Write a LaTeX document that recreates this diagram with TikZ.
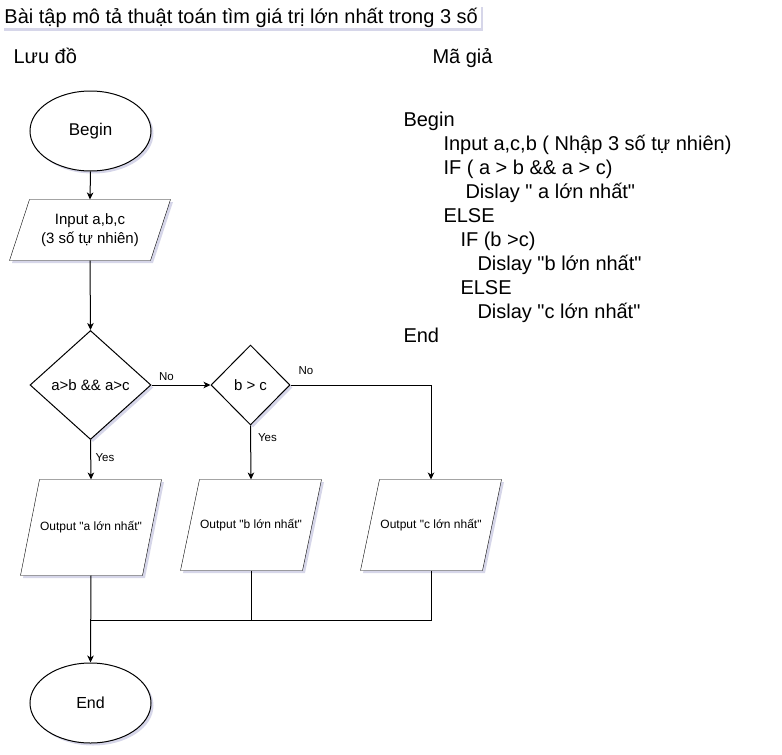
\documentclass[tikz,border=0pt]{standalone}
\usepackage{fontspec}
\setmainfont{Liberation Sans}[Ligatures=TeXOff]
\usetikzlibrary{shapes.geometric,shadows,arrows.meta,calc,backgrounds}
\definecolor{shc}{RGB}{204,204,228}
\newcommand\mypgram[2]{\draw[para] ($(#1.north west)+(#2,0)$) -- ($(#1.north east)+(#2,0)$) -- ($(#1.south east)-(#2,0)$) -- ($(#1.south west)-(#2,0)$) -- cycle;}
\begin{document}
\begin{tikzpicture}[x=1pt,y=-1pt, line width=1pt,
  shd/.style={drop shadow={shadow xshift=2.5pt,shadow yshift=-2.5pt,fill=shc,opacity=0.8}},
  term/.style={ellipse, draw, fill=white, shd, minimum width=121pt, minimum height=80pt, inner sep=0pt},
  dec/.style={diamond, draw, fill=white, shd, inner sep=0pt, font=\fontsize{15}{18}\selectfont},
  iobody/.style={rectangle, inner sep=0pt, align=center},
  para/.style={draw, fill=white, shd, line join=miter},
  arr/.style={-{Stealth[length=7pt,width=6.5pt,inset=2pt]}},
  lbl/.style={font=\fontsize{11.5}{13}\selectfont, inner sep=0pt},
  code/.style={anchor=west, inner sep=0pt, font=\fontsize{20}{24}\selectfont, text height=14pt, text depth=0pt}]
\useasboundingbox (0,0) rectangle (782,755);

% title and headings
\node[code, fill=white, shd, inner xsep=3pt, minimum height=24pt] (title) at (1,16)
  {Bài tập mô tả thuật toán tìm giá trị lớn nhất trong 3 số};
\node[code] (h1) at (13,56) {Lưu đồ};
\node[code] (h2) at (432,56) {Mã giả};

% pseudo code
\node[code] (c1) at (403,119) {Begin};
\node[code] (c2) at (443,143) {Input a,c,b ( Nhập 3 số tự nhiên)};
\node[code] (c3) at (443,167) {IF ( a > b \&\& a > c)};
\node[code] (c4) at (465,191) {Dislay " a lớn nhất"};
\node[code] (c5) at (443,215) {ELSE};
\node[code] (c6) at (460,239) {IF (b >c)};
\node[code] (c7) at (477,263) {Dislay "b lớn nhất"};
\node[code] (c8) at (460,287) {ELSE};
\node[code] (c9) at (477,311) {Dislay "c lớn nhất"};
\node[code] (c10) at (403,335) {End};

% flowchart nodes
\node[term, font=\fontsize{17}{20}\selectfont] (begin) at (90.5,131) {Begin};
\node[iobody, minimum width=140pt, minimum height=60pt, font=\fontsize{15}{19}\selectfont] (input) at (90,230) {Input a,b,c\\(3 số tự nhiên)};
\node[dec, minimum width=121pt, minimum height=109pt] (d1) at (90.5,385) {a>b \&\& a>c};
\node[dec, minimum width=79pt, minimum height=80pt] (d2) at (250.5,385) {b > c};
\node[iobody, minimum width=121pt, minimum height=95pt, font=\fontsize{12}{14}\selectfont] (o1) at (91,527.5) {Output "a lớn nhất"};
\node[iobody, minimum width=121pt, minimum height=90pt, font=\fontsize{12}{14}\selectfont] (o2) at (251,525) {Output "b lớn nhất"};
\node[iobody, minimum width=121pt, minimum height=90pt, font=\fontsize{12}{14}\selectfont] (o3) at (431,525) {Output "c lớn nhất"};
\node[term, font=\fontsize{16}{19}\selectfont] (end) at (90.5,703) {End};

\begin{scope}[on background layer]
  \mypgram{input}{10}
  \mypgram{o1}{9.5}
  \mypgram{o2}{9.5}
  \mypgram{o3}{9.5}
\end{scope}

% connectors
\draw[arr] (begin.south) -- (input.north);
\draw[arr] (input.south) -- (d1.north);
\draw[arr] (d1.east) -- node[lbl, pos=0, xshift=15pt, yshift=8pt] {No} (d2.west);
\draw[arr] (d2.east) -| node[lbl, pos=0, xshift=15.5pt, yshift=14pt] {No} (o3.north);
\draw[arr] (d1.south) -- node[lbl, pos=0, xshift=14.5pt, yshift=-18pt] {Yes} (o1.north);
\draw[arr] (d2.south) -- node[lbl, pos=0, xshift=17pt, yshift=-12pt] {Yes} (o2.north);
\draw[arr] (o1.south) -- (end.north);
\coordinate (jn) at (91,620);
\draw (o3.south) |- (jn);
\draw (o2.south) -- (o2.south |- jn);
\end{tikzpicture}
\end{document}
